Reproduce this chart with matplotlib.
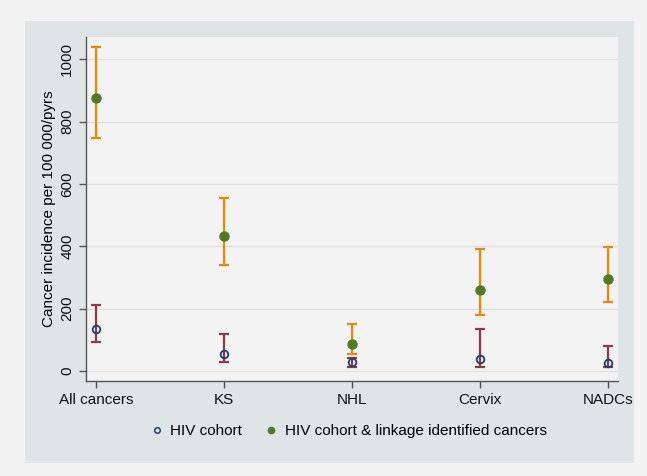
import matplotlib.pyplot as plt
from matplotlib.patches import Rectangle
from matplotlib.lines import Line2D

plt.rcParams['font.family'] = ['Liberation Sans', 'DejaVu Sans']

categories = ['All cancers', 'KS', 'NHL', 'Cervix', 'NADCs']

cohort = [135, 55, 30, 37, 25]
cohort_lo = [92, 30, 12, 14, 12]
cohort_hi = [211, 119, 42, 134, 80]

linked = [875, 433, 86, 260, 294]
linked_lo = [746, 340, 53, 179, 222]
linked_hi = [1040, 554, 150, 391, 397]

W, H = 647, 476
fig = plt.figure(figsize=(W / 100, H / 100), dpi=100, facecolor='#f2f2f2')
fig.patches.append(Rectangle((25 / W, 1 - 463 / H), (634 - 25) / W, (463 - 21) / H,
                             transform=fig.transFigure, facecolor='#dfe4e7',
                             edgecolor='none', zorder=-5))
ax = fig.add_axes([86 / W, 1 - 381 / H, (618 - 86) / W, (381 - 37) / H])
ax.set_facecolor('#f3f3f3')

x = list(range(len(categories)))
err_c = [[c - l for c, l in zip(cohort, cohort_lo)], [h - c for c, h in zip(cohort, cohort_hi)]]
err_l = [[c - l for c, l in zip(linked, linked_lo)], [h - c for c, h in zip(linked, linked_hi)]]

ax.errorbar(x, linked, yerr=err_l, fmt='none', ecolor='#e8870e', elinewidth=1.6,
            capsize=3.5, capthick=1.6, zorder=3)
ax.errorbar(x, cohort, yerr=err_c, fmt='none', ecolor='#8f3a4a', elinewidth=1.6,
            capsize=3.5, capthick=1.6, zorder=3)
ax.plot(x, cohort, 'o', ms=5.5, mfc='none', mec='#1f3f6a', mew=1.3, zorder=4)
ax.plot(x, linked, 'o', ms=6.5, mfc='#4f7a2a', mec='#4f7a2a', zorder=4)

ax.set_xlim(-0.078, 4.076)
ax.set_ylim(-32, 1071)
ax.set_xticks(x)
ax.set_xticklabels(categories, fontsize=11)
ax.set_yticks(range(0, 1001, 200))
ax.set_yticklabels([str(v) for v in range(0, 1001, 200)], rotation=90, va='center', fontsize=11)
ax.set_ylabel('Cancer incidence per 100 000/pyrs', fontsize=11, labelpad=3)
ax.grid(axis='y', color='#e0e0e0', lw=1.0)
ax.set_axisbelow(True)
for s in ['top', 'right']:
    ax.spines[s].set_visible(False)
for s in ['left', 'bottom']:
    ax.spines[s].set_color('#555555')
    ax.spines[s].set_linewidth(1.0)
ax.tick_params(colors='#555555', labelcolor='#111111', length=5, width=1)

handles = [
    Line2D([], [], ls='none', marker='o', ms=4, mfc='none', mec='#1f3f6a', mew=1.1),
    Line2D([], [], ls='none', marker='o', ms=4.5, mfc='#4f7a2a', mec='#4f7a2a'),
]
fig.legend(handles, ['HIV cohort', 'HIV cohort & linkage identified cancers'],
           loc='center', bbox_to_anchor=(348 / W, 1 - 431 / H), ncol=2, frameon=False,
           fontsize=11, handletextpad=0.4, columnspacing=1.4, handlelength=1.0)

fig.savefig('out.png', dpi=100, facecolor=fig.get_facecolor())
